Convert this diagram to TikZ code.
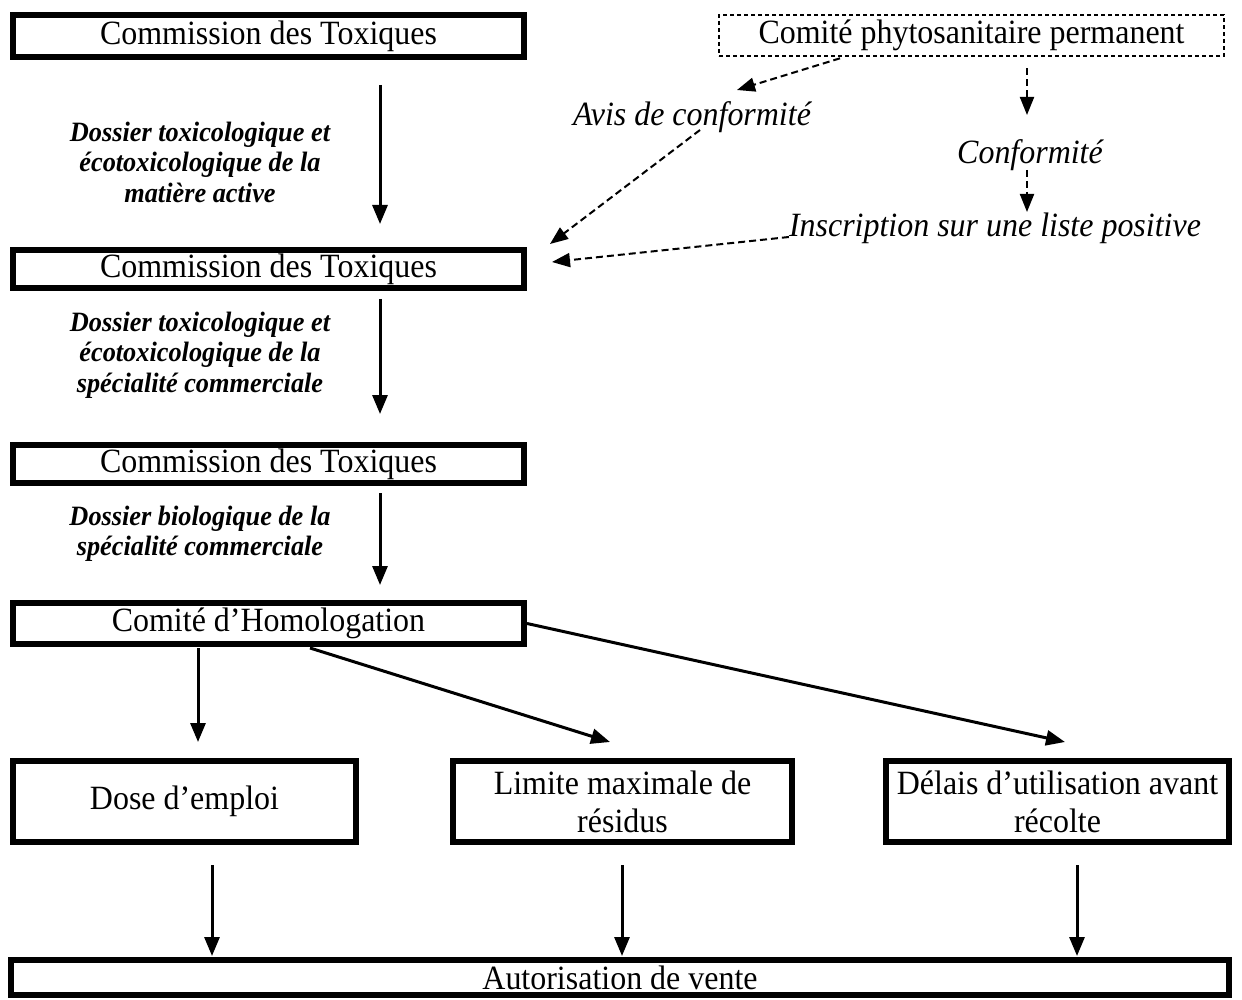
\documentclass[tikz,border=0pt]{standalone}
\usepackage{fontspec}
\setmainfont{Liberation Serif}[FakeStretch=0.94]
\usetikzlibrary{arrows.meta}
\begin{document}
\begin{tikzpicture}[x=1pt,y=-1pt,
  box/.style={draw,line width=6pt,inner sep=0pt,align=center,font=\fontsize{34}{38}\selectfont},
  dbox/.style={draw,line width=2.6pt,dash pattern=on 4pt off 3pt,inner sep=0pt,font=\fontsize{34}{38}\selectfont},
  lbl/.style={align=center,inner sep=0pt,font=\fontsize{28}{30.5}\selectfont\bfseries\itshape},
  itl/.style={inner sep=0pt,font=\fontsize{34}{38}\selectfont\itshape},
  arr/.style={line width=3pt,-{Triangle[length=19pt,width=15pt]}},
  darr/.style={line width=2pt,dash pattern=on 7pt off 4pt,-{Triangle[length=18pt,width=14pt]}}]
\useasboundingbox (0,0) rectangle (1242,1000);
\fill[white] (0,0) rectangle (1242,1000);
% boxes
\node[box,minimum width=511pt,minimum height=42pt] (b1) at (268.5,36) {Commission des Toxiques};
\node[box,minimum width=511pt,minimum height=38pt] (b2) at (268.5,269) {Commission des Toxiques};
\node[box,minimum width=511pt,minimum height=38pt] (b3) at (268.5,464) {Commission des Toxiques};
\node[box,minimum width=511pt,minimum height=41pt] (b4) at (268.5,623.5) {Comité d’Homologation};
\node[box,minimum width=343pt,minimum height=81pt] (d1) at (184.5,801.5) {Dose d’emploi};
\node[box,minimum width=339pt,minimum height=81pt] (d2) at (622.5,801.5) {Limite maximale de\\résidus};
\node[box,minimum width=343pt,minimum height=81pt] (d3) at (1057.5,801.5) {Délais d’utilisation avant\\récolte};
\node[box,minimum width=1218pt,minimum height=35pt] (av) at (620,977.5) {Autorisation de vente};
\node[dbox,minimum width=505pt,minimum height=41pt] (cp) at (971.5,35.5) {Comité phytosanitaire permanent};
% labels
\node[lbl] (l1) at (200,162) {Dossier toxicologique et\\écotoxicologique de la\\matière active};
\node[lbl] (l2) at (200,355) {Dossier toxicologique et\\écotoxicologique de la\\spécialité commerciale};
\node[lbl] (l3) at (200,534) {Dossier biologique de la\\spécialité commerciale};
\node[itl] (avis) at (692,117) {Avis de conformité};
\node[itl] (conf) at (1030,155) {Conformité};
\node[itl] (insc) at (995,228) {Inscription sur une liste positive};
% vertical main arrows
\coordinate (ax) at (380,0);
\draw[arr,shorten <=25pt,shorten >=23pt] (b1.south -| ax) -- (b2.north -| ax);
\draw[arr,shorten <=8pt,shorten >=28pt] (b2.south -| ax) -- (b3.north -| ax);
\draw[arr,shorten <=7pt,shorten >=15pt] (b3.south -| ax) -- (b4.north -| ax);
% from homologation
\coordinate (hx) at (198,0);
\draw[arr,shorten <=1pt,shorten >=16pt] (b4.south -| hx) -- (d1.north -| hx);
\draw[arr] ([xshift=41.5pt,yshift=-1pt]b4.south) -- ([xshift=-12.5pt,yshift=16pt]d2.north);
\draw[arr] (b4.east) -- ([xshift=7.5pt,yshift=16pt]d3.north);
% to autorisation
\coordinate (x1) at (212,0);
\coordinate (x2) at (622,0);
\coordinate (x3) at (1077,0);
\draw[arr,shorten <=20pt,shorten >=1pt] (d1.south -| x1) -- (av.north -| x1);
\draw[arr,shorten <=20pt,shorten >=1pt] (d2.south -| x2) -- (av.north -| x2);
\draw[arr,shorten <=20pt,shorten >=1pt] (d3.south -| x3) -- (av.north -| x3);
% dashed
\coordinate (cx) at (1027,0);
\draw[darr] ([xshift=-131.5pt,yshift=-1pt]cp.south) -- ([xshift=45pt,yshift=27pt]avis.center);
\draw[darr,shorten <=11pt] (cp.south -| cx) -- ([yshift=40pt]conf.center -| cx);
\draw[darr] ([yshift=-15pt]conf.center -| cx) -- ([yshift=16pt]insc.center -| cx);
\draw[darr] ([xshift=8pt,yshift=-13pt]avis.center) -- ([xshift=23pt,yshift=3pt]b2.north east);
\draw[darr] ([yshift=-9pt]insc.west) -- ([xshift=25pt,yshift=7pt]b2.east);
\end{tikzpicture}
\end{document}
